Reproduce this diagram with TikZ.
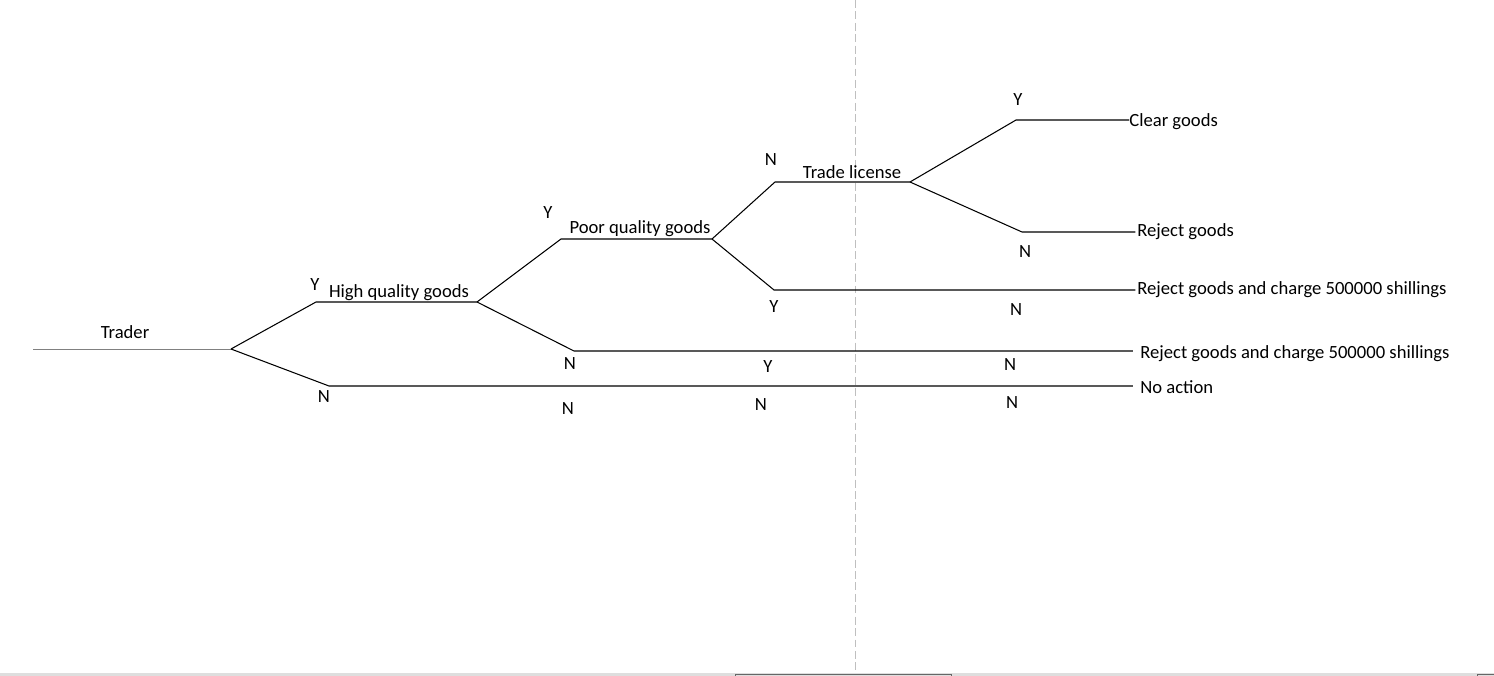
\documentclass[tikz,border=0pt]{standalone}
\usepackage{fontspec}
\setmainfont{Carlito}
\begin{document}
\begin{tikzpicture}[x=0.02cm,y=-0.02cm,
    txt/.style={inner sep=0pt,yshift=-0.35mm,font=\fontsize{10.6}{12}\selectfont},
    leaf/.style={txt,anchor=west},
    branch/.style={line width=0.6pt}]
  \useasboundingbox (0,0) rectangle (1494,676);
  % window chrome at the bottom
  \fill[black!13] (0,673) rectangle (1494,676);
  \draw[black!60,line width=0.4pt] (735,676) -- (735,674) -- (951,674) -- (951,676);
  \draw[black!60,line width=0.4pt] (1477,676) -- (1477,674) -- (1494,674);
  \draw[black!25,line width=0.5pt,dash pattern=on 4.5pt off 2pt] (855,0) -- (855,673);
  % decision points
  \coordinate (start) at (33,349);
  \coordinate (root) at (231,349);
  \coordinate (hy) at (316,302);  \coordinate (hq) at (477,302);
  \coordinate (hn) at (329,386);
  \coordinate (py) at (561,239);  \coordinate (pq) at (712,239);
  \coordinate (pn) at (574,351);
  \coordinate (tn) at (775,182);  \coordinate (tl) at (910,182);
  \coordinate (ty) at (774,290);
  \coordinate (cy) at (1016,120); \coordinate (cn) at (1022,232);
  % outcomes
  \node[leaf] (clear) at (1129,120) {Clear goods};
  \node[leaf] (reject) at (1137,230) {Reject goods};
  \node[leaf] (charge1) at (1137,288) {Reject goods and charge 500000 shillings};
  \node[leaf] (charge2) at (1140,352) {Reject goods and charge 500000 shillings};
  \node[leaf] (none) at (1140,385) {No action};
  % branches
  \draw[black!50,line width=0.4pt] (start) -- (root);
  \draw[branch] (root) -- (hy) -- (hq);
  \draw[branch,shorten >=4pt] (root) -- (hn) -- (hn -| none.west);
  \draw[branch] (hq) -- (py) -- (pq);
  \draw[branch,shorten >=4pt] (hq) -- (pn) -- (pn -| charge2.west);
  \draw[branch] (pq) -- (tn) -- (tl);
  \draw[branch,shorten >=1pt] (pq) -- (ty) -- (ty -| charge1.west);
  \draw[branch] (tl) -- (cy) -- (cy -| clear.west);
  \draw[branch,shorten >=1pt] (tl) -- (cn) -- (cn -| reject.west);
  % titles
  \node[txt] (trader) at (125,330) {Trader};
  \node[txt] (high) at (399,291) {High quality goods};
  \node[txt] (poor) at (640,227) {Poor quality goods};
  \node[txt] (trade) at (852,170) {Trade license};
  % Y / N marks
  \foreach \p/\t in {{315,283}/Y, {324,395}/N, {548,211}/Y, {570,362}/N,
      {568,407}/N, {771,158}/N, {774,305}/Y, {768,365}/Y, {761,403}/N,
      {1018,98}/Y, {1025,250}/N, {1016,308}/N, {1010,363}/N, {1012,401}/N}
    \node[txt] at (\p) {\t};
\end{tikzpicture}
\end{document}
